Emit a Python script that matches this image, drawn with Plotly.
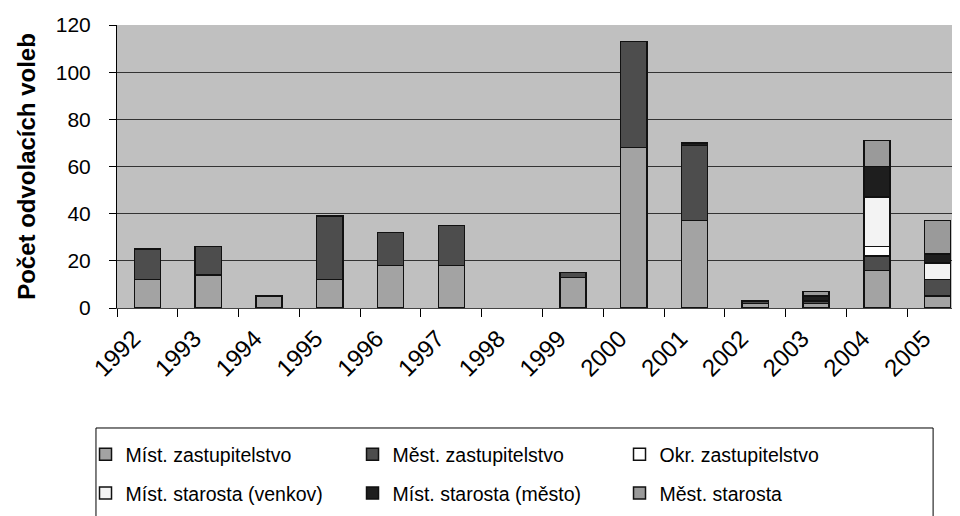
import plotly.graph_objects as go

years = ["1992", "1993", "1994", "1995", "1996", "1997", "1998",
         "1999", "2000", "2001", "2002", "2003", "2004", "2005"]

mist_zast     = [12, 14, 5, 12, 18, 18, 0, 13, 68, 37, 2, 2, 16, 5]
mest_zast     = [13, 12, 0, 27, 14, 17, 0, 2, 45, 32, 1, 1, 6, 7]
okr_zast      = [0, 0, 0, 0, 0, 0, 0, 0, 0, 0, 0, 0, 4, 0]
mist_st_venk  = [0, 0, 0, 0, 0, 0, 0, 0, 0, 0, 0, 0, 21, 7]
mist_st_mesto = [0, 0, 0, 0, 0, 0, 0, 0, 0, 1, 0, 2, 13, 4]
mest_starosta = [0, 0, 0, 0, 0, 0, 0, 0, 0, 0, 0, 2, 11, 14]

y_ticks = [0, 20, 40, 60, 80, 100, 120]

series = [
    ("Míst. zastupitelstvo", mist_zast, "#a3a3a3", "legend"),
    ("Měst. zastupitelstvo", mest_zast, "#4d4d4d", "legend"),
    ("Okr. zastupitelstvo", okr_zast, "#ffffff", "legend"),
    ("Míst. starosta (venkov)", mist_st_venk, "#f3f3f3", "legend2"),
    ("Míst. starosta (město)", mist_st_mesto, "#1e1e1e", "legend2"),
    ("Měst. starosta", mest_starosta, "#9a9a9a", "legend2"),
]

FONT = "Liberation Sans, Arial, sans-serif"

fig = go.Figure()
for name, vals, col, lg in series:
    fig.add_trace(go.Bar(
        x=years, y=[v if v else None for v in vals], name=name, legend=lg,
        marker=dict(color=col, line=dict(color="#111111", width=1.5)),
    ))

legend_common = dict(
    orientation="h", traceorder="normal",
    font=dict(family=FONT, size=19.5, color="#000000"),
    entrywidth=222, entrywidthmode="pixels",
    bgcolor="rgba(0,0,0,0)", borderwidth=0,
    xanchor="left", yanchor="middle", x=-0.037,
)

fig.update_layout(
    width=960, height=516,
    margin=dict(l=109, r=0, t=17, b=216),
    paper_bgcolor="#ffffff", plot_bgcolor="#c0c0c0",
    barmode="stack", bargap=0.57,
    font=dict(family=FONT, color="#000000"),
    legend=dict(**legend_common, y=-0.518),
    legend2=dict(**legend_common, y=-0.655),
    xaxis=dict(
        type="category", range=[-0.5, 13.5],
        tickangle=-45, tickfont=dict(size=24, family=FONT),
        ticks="outside", tickson="boundaries", ticklen=8,
        ticklabelshift=-14, ticklabelstandoff=6,
        tickcolor="#000000", showline=True, linecolor="#444444",
        linewidth=1, showgrid=False,
    ),
    yaxis=dict(
        range=[0, 120], tickvals=y_ticks,
        tickfont=dict(size=21, family=FONT),
        ticks="outside", ticklen=7, tickcolor="#000000",
        ticklabelstandoff=14,
        showline=True, linecolor="#000000", linewidth=1,
        showgrid=True, gridcolor="#333333", gridwidth=1,
        zeroline=False,
        title=dict(text="<b>Počet odvolacích voleb</b>",
                   font=dict(size=24, family=FONT), standoff=13),
    ),
    shapes=[dict(
        type="rect", xref="paper", yref="paper",
        x0=-0.0247, x1=0.959, y0=-0.424, y1=-0.80,
        line=dict(color="#000000", width=1), fillcolor="rgba(0,0,0,0)",
        layer="above",
    )],
)

fig.write_html("out.html")
